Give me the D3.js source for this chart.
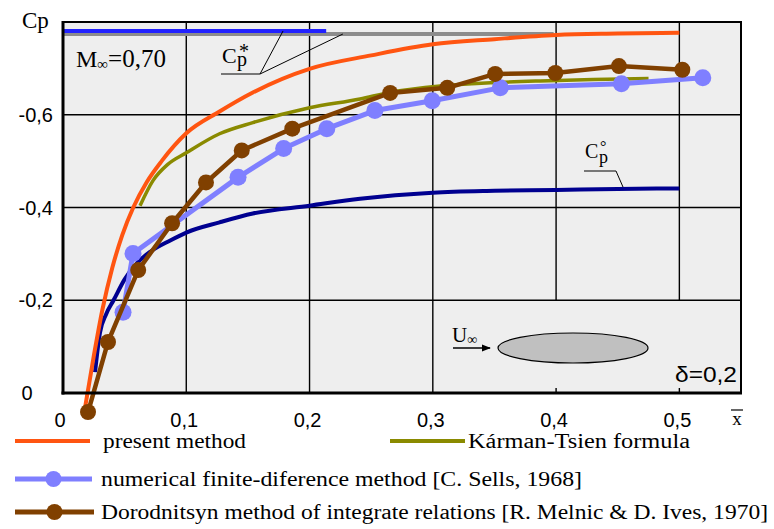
<!DOCTYPE html>
<html><head><meta charset="utf-8">
<script src="https://cdn.jsdelivr.net/npm/d3@7/dist/d3.min.js"></script>
<style>body{margin:0;background:#fff}svg{display:block}</style>
</head><body>
<svg id="c" width="774" height="529"></svg>
<script>
// ---------- data ----------
const xTickVals = [0, 0.1, 0.2, 0.3, 0.4, 0.5];
const xTickLabels = ["0", "0,1", "0,2", "0,3", "0,4", "0,5"];
const yTickVals = [0, -0.2, -0.4, -0.6];
const yTickLabels = ["0", "-0,2", "-0,4", "-0,6"];

// critical pressure coefficient Cp* (two drawn lines)
const cpStarBlueX = [0.0, 0.2135];
const cpStarBlueY = [-0.7806, -0.7806];
const cpStarGrayX = [0.0, 0.398];
const cpStarGrayY = [-0.774, -0.774];

// present method
const presentX = [0.018, 0.025, 0.032, 0.040, 0.048, 0.057, 0.068, 0.080, 0.100, 0.127, 0.154, 0.200, 0.250, 0.300, 0.350, 0.400, 0.450, 0.500];
const presentY = [0.03, -0.08, -0.18, -0.27, -0.34, -0.40, -0.455, -0.50, -0.56, -0.607, -0.648, -0.699, -0.728, -0.752, -0.763, -0.772, -0.775, -0.777];

// Karman-Tsien formula
const ktX = [0.0625, 0.073, 0.085, 0.100, 0.127, 0.154, 0.200, 0.241, 0.265, 0.306, 0.347, 0.387, 0.430, 0.475];
const ktY = [-0.404, -0.458, -0.493, -0.518, -0.559, -0.583, -0.615, -0.634, -0.648, -0.662, -0.669, -0.673, -0.676, -0.678];

// incompressible Cp°
const incX = [0.026, 0.030, 0.035, 0.041, 0.050, 0.060, 0.071, 0.087, 0.100, 0.127, 0.154, 0.200, 0.241, 0.300, 0.350, 0.400, 0.450, 0.500];
const incY = [-0.045, -0.13, -0.17, -0.20, -0.245, -0.28, -0.305, -0.329, -0.346, -0.368, -0.387, -0.404, -0.419, -0.432, -0.436, -0.438, -0.440, -0.441];

// numerical finite-difference method [C. Sells, 1968]
const sellsX = [0.0487, 0.0568, 0.142, 0.179, 0.214, 0.253, 0.2995, 0.3547, 0.453, 0.519];
const sellsY = [-0.174, -0.301, -0.465, -0.527, -0.570, -0.609, -0.630, -0.658, -0.667, -0.680];

// Dorodnitsyn method [R. Melnic & D. Ives, 1970]
const doroX = [0.0203, 0.0365, 0.061, 0.0885, 0.116, 0.145, 0.186, 0.2654, 0.3117, 0.3506, 0.3994, 0.451, 0.5024];
const doroY = [0.041, -0.110, -0.265, -0.366, -0.454, -0.523, -0.570, -0.647, -0.658, -0.688, -0.690, -0.705, -0.697];

const legendLabels = [
  "present method",
  "Kárman-Tsien  formula",
  "numerical finite-diference method [C. Sells, 1968]",
  "Dorodnitsyn method of integrate relations [R. Melnic & D. Ives, 1970]"
];

// ---------- layout ----------
const svg = d3.select("#c");
const L = 63, R = 741, T = 22, B = 393;
const x = d3.scaleLinear().domain([0, 0.55]).range([L, R]);
const y = d3.scaleLinear().domain([0, -0.8]).range([B, T]);
const serif = "'Liberation Serif','Times New Roman',serif";
const sans = "'Liberation Sans',Arial,sans-serif";

const C = {
  orange: "#ff5511", olive: "#8a8a00", navy: "#000090",
  sells: "#7f7fff", doro: "#804000", blue: "#2222ff", gray: "#8c8c8c"
};

// background
svg.append("rect").attr("x", L).attr("y", T).attr("width", R - L).attr("height", B - T).attr("fill", "#eeeeee");

// grid
const grid = svg.append("g").attr("stroke", "#000").attr("stroke-width", 1.4);
[0.1, 0.2, 0.3].forEach(v => grid.append("line").attr("x1", x(v)).attr("x2", x(v)).attr("y1", T).attr("y2", B));
[0.4, 0.5].forEach(v => {
  grid.append("line").attr("x1", x(v)).attr("x2", x(v)).attr("y1", T).attr("y2", y(-0.2));
  grid.append("line").attr("x1", x(v)).attr("x2", x(v)).attr("y1", B - 5).attr("y2", B);
});
[-0.2, -0.4, -0.6].forEach(v => grid.append("line").attr("x1", L).attr("x2", R).attr("y1", y(v)).attr("y2", y(v)));

// inset: body and flow arrow
svg.append("defs").append("marker").attr("id", "arr").attr("viewBox", "0 0 10 10")
  .attr("refX", 9).attr("refY", 5).attr("markerWidth", 7).attr("markerHeight", 7).attr("orient", "auto")
  .append("path").attr("d", "M0,1 L10,5 L0,9 Z").attr("fill", "#000");
svg.append("ellipse").attr("cx", 573).attr("cy", 348).attr("rx", 75).attr("ry", 15)
  .attr("fill", "#c0c0c0").attr("stroke", "#000").attr("stroke-width", 1.2);
svg.append("line").attr("x1", 453).attr("x2", 490).attr("y1", 348).attr("y2", 348)
  .attr("stroke", "#000").attr("stroke-width", 1.3).attr("marker-end", "url(#arr)");
const u = svg.append("text").attr("x", 452).attr("y", 342).attr("font-family", serif).attr("font-size", 21);
u.append("tspan").text("U");
u.append("tspan").attr("font-size", 14).attr("dy", 2).text("∞");
svg.append("text").attr("x", 737).attr("y", 382).attr("text-anchor", "end")
  .attr("font-family", sans).attr("font-size", 22).attr("textLength", 62).attr("lengthAdjust", "spacingAndGlyphs").text("δ=0,2");

// curves
const line = d3.line().x(d => x(d[0])).y(d => y(d[1]));
const smooth = d3.line().x(d => x(d[0])).y(d => y(d[1])).curve(d3.curveMonotoneX);
const zip = (a, b) => a.map((v, i) => [v, b[i]]);

function path(data, gen, color, w) {
  svg.append("path").datum(data).attr("d", gen).attr("fill", "none")
    .attr("stroke", color).attr("stroke-width", w).attr("stroke-linejoin", "round");
}
path(zip(cpStarGrayX, cpStarGrayY), line, C.gray, 4);
path(zip(cpStarBlueX, cpStarBlueY), line, C.blue, 4);
path(zip(incX, incY), smooth, C.navy, 4);
path(zip(ktX, ktY), smooth, C.olive, 3.5);
path(zip(presentX, presentY), smooth, C.orange, 4);

const sells = zip(sellsX, sellsY);
path(sells, line, C.sells, 5);
svg.append("g").selectAll("circle").data(sells).join("circle")
  .attr("cx", d => x(d[0])).attr("cy", d => y(d[1])).attr("r", 8.5).attr("fill", C.sells);

const doro = zip(doroX, doroY);
path(doro, line, C.doro, 4.5);
svg.append("g").selectAll("circle").data(doro).join("circle")
  .attr("cx", d => x(d[0])).attr("cy", d => y(d[1])).attr("r", 8).attr("fill", C.doro);

// frame
svg.append("rect").attr("x", L).attr("y", T).attr("width", R - L).attr("height", B - T)
  .attr("fill", "none").attr("stroke", "#000").attr("stroke-width", 2);
svg.append("line").attr("x1", L).attr("x2", L).attr("y1", T - 1).attr("y2", B + 1.5).attr("stroke", "#000").attr("stroke-width", 3);
svg.append("line").attr("x1", L - 1.5).attr("x2", R + 1).attr("y1", B).attr("y2", B).attr("stroke", "#000").attr("stroke-width", 3);

// ticks labels
svg.append("g").selectAll("text").data(xTickVals).join("text")
  .attr("x", (d, i) => x(d) - (i === 0 ? 3 : 2)).attr("y", 427).attr("text-anchor", "middle")
  .attr("font-family", sans).attr("font-size", 20).text((d, i) => xTickLabels[i]);
svg.append("g").selectAll("text").data(yTickVals).join("text")
  .attr("x", (d, i) => i === 0 ? 27 : 53).attr("y", d => y(d) + 7)
  .attr("text-anchor", (d, i) => i === 0 ? "middle" : "end")
  .attr("font-family", sans).attr("font-size", 20).text((d, i) => yTickLabels[i]);

// axis titles
const cp = svg.append("text").attr("x", 22).attr("y", 28).attr("font-family", serif).attr("font-size", 23);
cp.append("tspan").text("C");
cp.append("tspan").text("p");
svg.append("text").attr("x", 737).attr("y", 425).attr("text-anchor", "middle")
  .attr("font-family", serif).attr("font-size", 19).text("x");
svg.append("line").attr("x1", 731).attr("x2", 743).attr("y1", 410).attr("y2", 410).attr("stroke", "#000").attr("stroke-width", 1.2);

// M infinity
const m = svg.append("text").attr("x", 76).attr("y", 67).attr("font-family", serif).attr("font-size", 24);
m.append("tspan").text("M");
m.append("tspan").attr("font-size", 15).attr("dy", 2).text("∞");
m.append("tspan").attr("dy", -2).attr("font-size", 25).text("=0,70");

// Cp* annotation (single text element with positioned tspans)
const s1 = svg.append("text").attr("font-family", serif);
s1.append("tspan").attr("x", 222).attr("y", 63).attr("font-size", 22).text("C");
s1.append("tspan").attr("x", 237).attr("y", 66).attr("font-size", 20).text("p");
s1.append("tspan").attr("x", 239).attr("y", 58).attr("font-size", 20).text("*");
const ann = svg.append("g").attr("stroke", "#000").attr("stroke-width", 1);
ann.append("line").attr("x1", 221).attr("x2", 260).attr("y1", 74).attr("y2", 74);
ann.append("line").attr("x1", 260).attr("x2", x(0.1785)).attr("y1", 74).attr("y2", y(cpStarBlueY[0]));
ann.append("line").attr("x1", 260).attr("x2", x(0.227)).attr("y1", 74).attr("y2", y(cpStarGrayY[0]));

// Cp° annotation
const s2 = svg.append("text").attr("font-family", serif);
s2.append("tspan").attr("x", 585).attr("y", 158).attr("font-size", 20).text("C");
s2.append("tspan").attr("x", 599).attr("y", 163).attr("font-size", 18).text("p");
s2.append("tspan").attr("x", 600).attr("y", 152).attr("font-size", 16).text("°");
ann.append("polyline").attr("points", "584,171 616,171 623,187").attr("fill", "none");

// legend
const lg = svg.append("g");
function legLine(x1, x2, yy, color, w, marker) {
  lg.append("line").attr("x1", x1).attr("x2", x2).attr("y1", yy).attr("y2", yy).attr("stroke", color).attr("stroke-width", w);
  if (marker) lg.append("circle").attr("cx", (x1 + x2) / 2).attr("cy", yy).attr("r", 8).attr("fill", color);
}
function legText(tx, yy, s, len) {
  lg.append("text").attr("x", tx).attr("y", yy + 7).attr("font-family", serif).attr("font-size", 20)
    .attr("textLength", len).attr("lengthAdjust", "spacingAndGlyphs").text(s);
}
legLine(15, 90, 441, C.orange, 4, false);
legText(103, 441, legendLabels[0], 143);
legLine(390, 465, 441, C.olive, 4, false);
legText(468, 441, legendLabels[1], 222);
legLine(15, 92, 479, C.sells, 5, true);
legText(101, 479, legendLabels[2], 481);
legLine(15, 94, 512, C.doro, 5, true);
legText(101, 512, legendLabels[3], 667);
</script>
</body></html>
